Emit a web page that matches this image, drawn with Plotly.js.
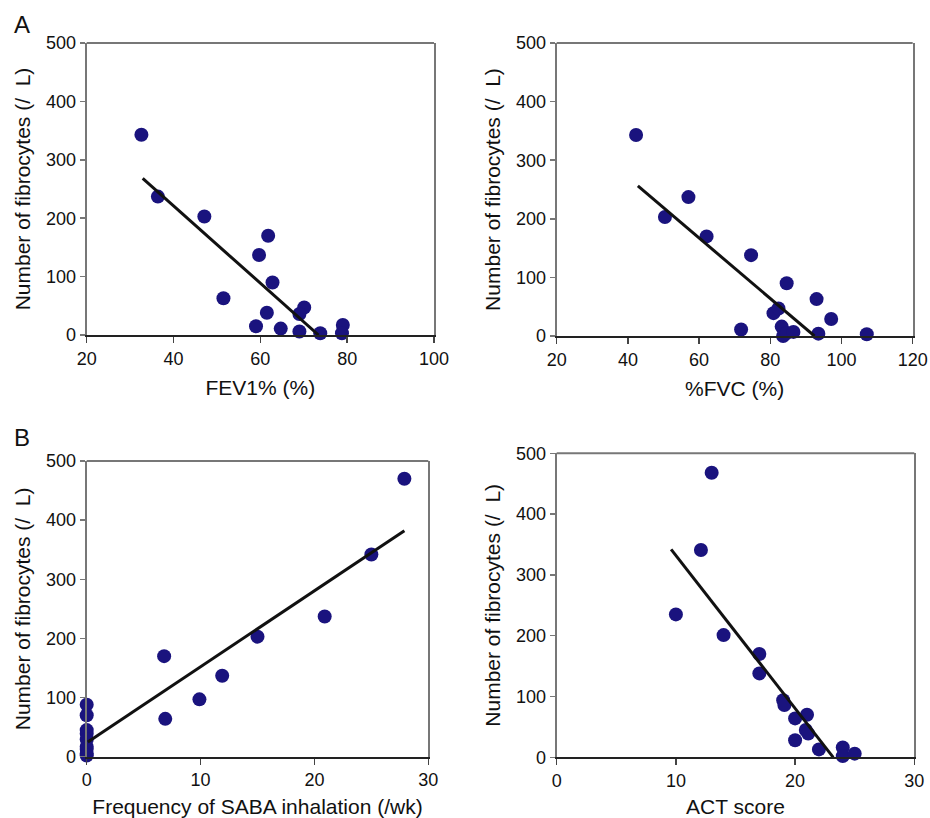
<!DOCTYPE html>
<html>
<head>
<meta charset="utf-8">
<script src="https://cdn.plot.ly/plotly-3.0.1.min.js"></script>
<style>html,body{margin:0;padding:0;background:#fff;}#chart{width:930px;height:818px;}</style>
</head>
<body>
<div id="chart"></div>
<script>
// ---- Data ----
// Panel A (left): FEV1% vs fibrocytes
const fev1 = [32.6, 36.4, 47.1, 51.5, 59.7, 61.8, 62.8, 61.5, 59.0, 64.7, 70.1, 69.0, 69.0, 73.8, 79.0, 78.8];
const fibFev1 = [343, 237, 203, 63, 137, 170, 90, 38, 15, 11, 47, 36, 6, 3, 17, 3];
const trendFev1X = [32.9, 73.4];
const trendFev1Y = [268, 0];

// Panel A (right): %FVC vs fibrocytes
const fvc = [42.3, 50.4, 57.0, 62.1, 74.6, 71.8, 80.9, 82.3, 83.2, 83.6, 84.6, 84.6, 86.5, 93.0, 93.5, 97.1, 107.1];
const fibFvc = [343, 203, 237, 170, 138, 11, 39, 47, 16, 0, 5, 90, 7, 63, 4, 29, 3];
const trendFvcX = [42.8, 92.4];
const trendFvcY = [256, 0];

// Panel B (left): SABA frequency vs fibrocytes
const saba = [27.9, 25.0, 20.9, 15.0, 11.9, 9.9, 6.8, 6.9, 0, 0, 0, 0, 0, 0, 0, 0, 0];
const fibSaba = [470, 342, 237, 203, 137, 97, 170, 64, 88, 70, 45, 39, 29, 17, 13, 5, 2];
const trendSabaX = [0.1, 27.9];
const trendSabaY = [25, 382];

// Panel B (right): ACT score vs fibrocytes
const act = [13.0, 12.1, 10.0, 14.0, 17.0, 17.0, 19.0, 19.1, 20.0, 21.0, 20.9, 21.1, 20.0, 22.0, 24.0, 24.0, 25.0];
const fibAct = [468, 341, 235, 201, 170, 138, 94, 86, 64, 70, 45, 39, 28, 13, 16, 2, 6];
const trendActX = [9.6, 23.2];
const trendActY = [342, 0];

const xTitles = ["FEV1% (%)", "%FVC (%)", "Frequency of SABA inhalation (/wk)", "ACT score"];
const yTitle = "Number of fibrocytes (/\u00a0\u00a0L)";
const panelLabels = ["A", "B"];

// ---- Styles ----
const W = 930, H = 818;
const dotColor = "#1a137e";
const font = "Liberation Sans, Arial, sans-serif";

function pts(x, y, xa, ya) {
  return {x: x, y: y, xaxis: xa, yaxis: ya, type: "scatter", mode: "markers",
    marker: {color: dotColor, size: 14, line: {width: 0}}, cliponaxis: false, hoverinfo: "x+y"};
}
function fit(x, y, xa, ya) {
  return {x: x, y: y, xaxis: xa, yaxis: ya, type: "scatter", mode: "lines",
    line: {color: "#111", width: 3}, hoverinfo: "skip"};
}

const data = [
  pts(fev1, fibFev1, "x", "y"), fit(trendFev1X, trendFev1Y, "x", "y"),
  pts(fvc, fibFvc, "x2", "y2"), fit(trendFvcX, trendFvcY, "x2", "y2"),
  pts(saba, fibSaba, "x3", "y3"), fit(trendSabaX, trendSabaY, "x3", "y3"),
  pts(act, fibAct, "x4", "y4"), fit(trendActX, trendActY, "x4", "y4")
];

// pixel boxes of each plot area [left, right, top, bottom]
const boxes = [
  [86.7, 434, 43, 335],
  [556.7, 912.7, 43, 336],
  [86.7, 428.3, 461, 756.7],
  [556.7, 914.3, 453.3, 757.3]
];
const xRanges = [[20, 100], [20, 120], [0, 30], [0, 30]];
const xDticks = [20, 20, 10, 10];

const layout = {
  width: W, height: H,
  margin: {l: 0, r: 0, t: 0, b: 0},
  paper_bgcolor: "#fff", plot_bgcolor: "#fff",
  showlegend: false,
  font: {family: font, size: 18, color: "#111"},
  shapes: [], annotations: []
};

boxes.forEach((b, i) => {
  const s = i === 0 ? "" : String(i + 1);
  layout["xaxis" + s] = {
    domain: [b[0] / W, b[1] / W], anchor: "y" + s,
    range: xRanges[i], dtick: xDticks[i], tick0: 0,
    showgrid: false, zeroline: false,
    showline: true, linecolor: "#222", linewidth: 2, mirror: false,
    ticks: "outside", ticklen: 6, tickcolor: "#444", tickwidth: 1.5,
    tickfont: {family: font, size: 18, color: "#111"},
    title: {text: xTitles[i], font: {family: font, size: 21, color: "#111"}, standoff: 13}
  };
  layout["yaxis" + s] = {
    domain: [1 - b[3] / H, 1 - b[2] / H], anchor: "x" + s,
    range: [0, 500], dtick: 100,
    showgrid: false, zeroline: false,
    showline: true, linecolor: "#777", linewidth: 2, mirror: true,
    ticks: "outside", ticklen: 5, tickcolor: "#777", tickwidth: 1.5,
    tickfont: {family: font, size: 18, color: "#111"},
    title: {text: yTitle, font: {family: font, size: 21, color: "#111"}, standoff: 10}
  };
  layout.shapes.push({type: "line", xref: "x" + s + " domain", yref: "y" + s + " domain",
    x0: 0, x1: 1, y0: 1, y1: 1, line: {color: "#777", width: 2}});
});

layout.annotations.push({text: panelLabels[0], xref: "paper", yref: "paper", x: 12 / W, y: 1 - 25 / H,
  xanchor: "left", yanchor: "middle", showarrow: false, font: {family: font, size: 24, color: "#111"}});
layout.annotations.push({text: panelLabels[1], xref: "paper", yref: "paper", x: 12 / W, y: 1 - 437 / H,
  xanchor: "left", yanchor: "middle", showarrow: false, font: {family: font, size: 24, color: "#111"}});

Plotly.newPlot("chart", data, layout, {displayModeBar: false, staticPlot: true});
</script>
</body>
</html>
